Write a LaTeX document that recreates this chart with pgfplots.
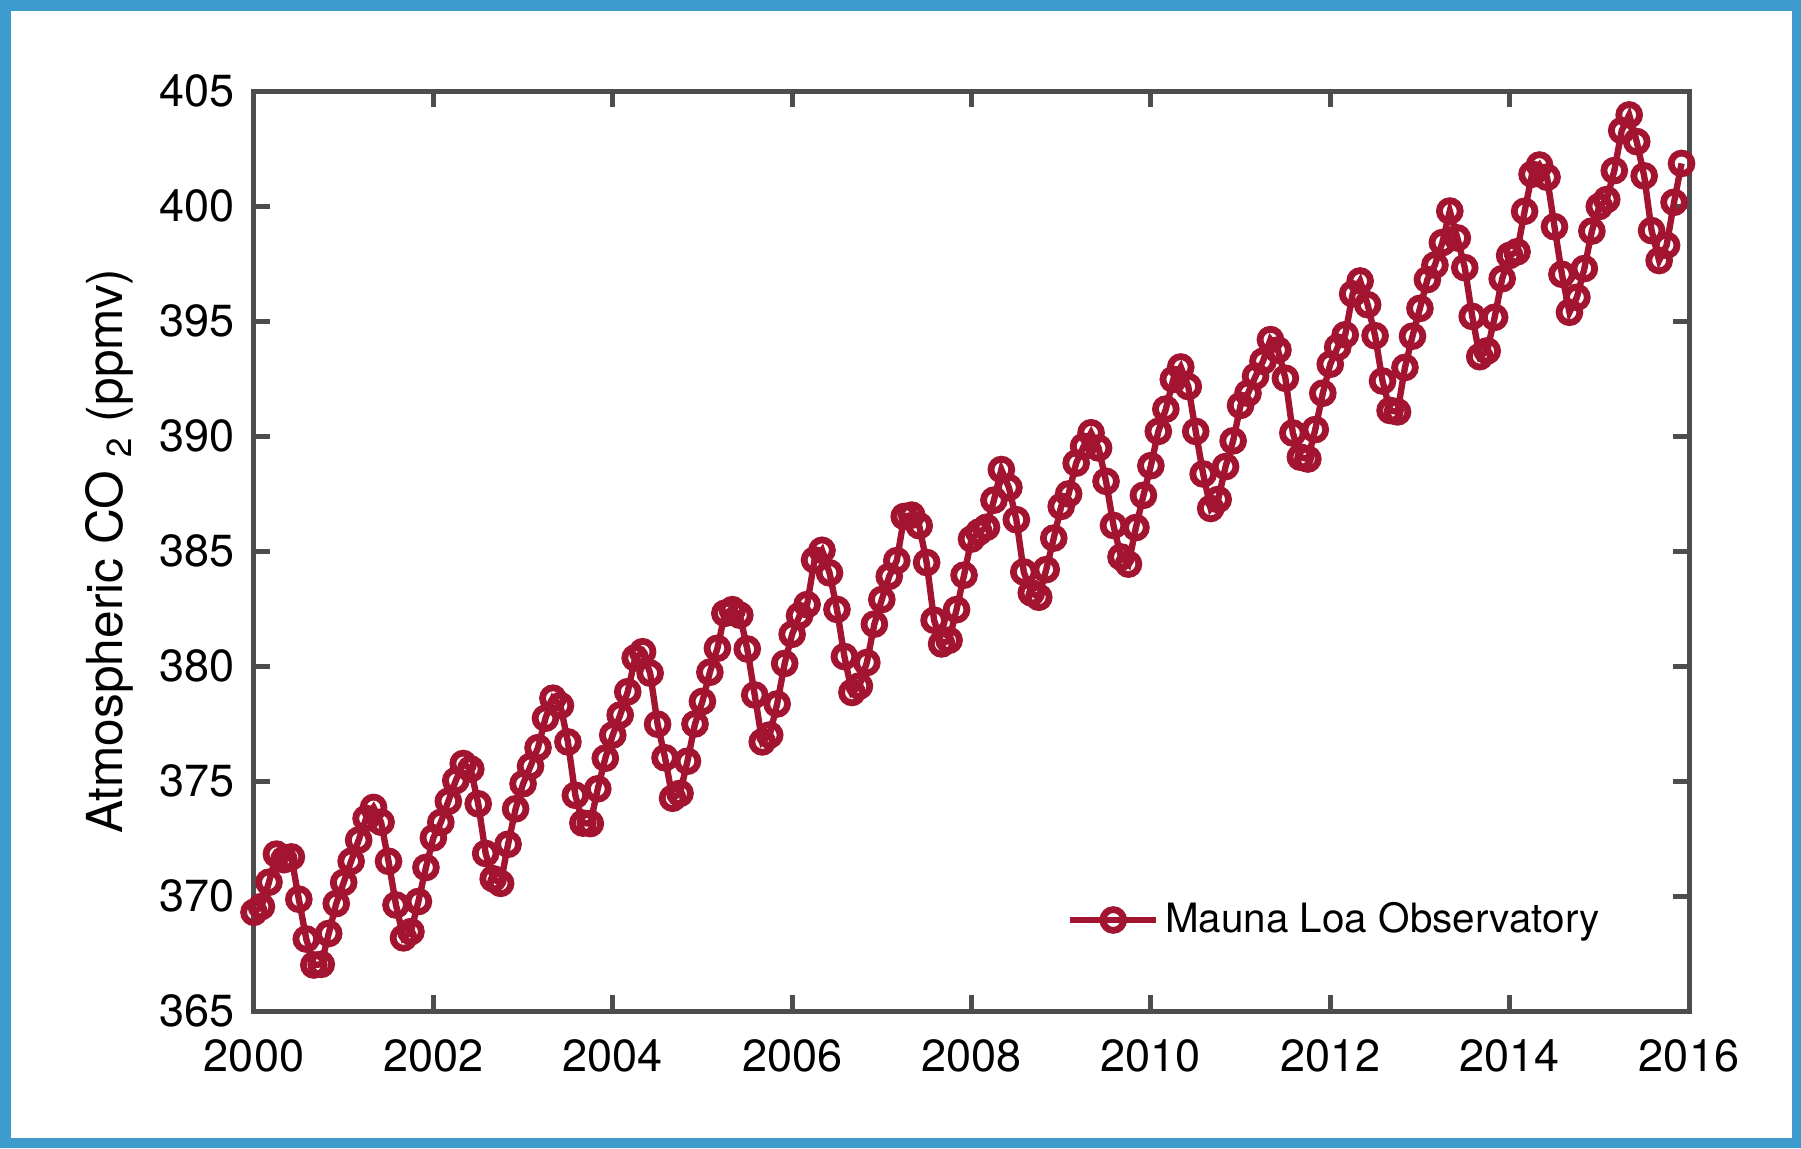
\documentclass[border=0pt]{standalone}
\usepackage{pgfplots}
\pgfplotsset{compat=1.18}
\usepackage{pgfplotstable}
\usepackage{fontspec}
\setmainfont{TeX Gyre Heros}

\definecolor{framecol}{HTML}{3E9BCD}
\definecolor{co2red}{rgb}{0.635,0.078,0.184}
\definecolor{axgray}{HTML}{4D4D4D}

% monthly means, Mauna Loa
\pgfplotstableread{
t co2
2000.000 369.29
2000.083 369.54
2000.167 370.60
2000.250 371.82
2000.333 371.58
2000.417 371.70
2000.500 369.86
2000.583 368.13
2000.667 367.00
2000.750 367.03
2000.833 368.37
2000.917 369.67
2001.000 370.59
2001.083 371.51
2001.167 372.43
2001.250 373.37
2001.333 373.85
2001.417 373.21
2001.500 371.51
2001.583 369.61
2001.667 368.18
2001.750 368.45
2001.833 369.76
2001.917 371.24
2002.000 372.53
2002.083 373.20
2002.167 374.12
2002.250 375.02
2002.333 375.76
2002.417 375.52
2002.500 374.01
2002.583 371.85
2002.667 370.75
2002.750 370.55
2002.833 372.25
2002.917 373.79
2003.000 374.88
2003.083 375.64
2003.167 376.45
2003.250 377.73
2003.333 378.60
2003.417 378.28
2003.500 376.70
2003.583 374.38
2003.667 373.17
2003.750 373.15
2003.833 374.66
2003.917 375.99
2004.000 377.00
2004.083 377.87
2004.167 378.88
2004.250 380.35
2004.333 380.62
2004.417 379.69
2004.500 377.47
2004.583 376.01
2004.667 374.25
2004.750 374.46
2004.833 375.86
2004.917 377.48
2005.000 378.46
2005.083 379.73
2005.167 380.77
2005.250 382.29
2005.333 382.45
2005.417 382.21
2005.500 380.74
2005.583 378.74
2005.667 376.70
2005.750 377.00
2005.833 378.35
2005.917 380.11
2006.000 381.38
2006.083 382.19
2006.167 382.67
2006.250 384.61
2006.333 385.03
2006.417 384.05
2006.500 382.46
2006.583 380.41
2006.667 378.85
2006.750 379.13
2006.833 380.15
2006.917 381.82
2007.000 382.89
2007.083 383.90
2007.167 384.58
2007.250 386.50
2007.333 386.56
2007.417 386.10
2007.500 384.50
2007.583 381.99
2007.667 380.96
2007.750 381.12
2007.833 382.45
2007.917 383.95
2008.000 385.52
2008.083 385.82
2008.167 386.03
2008.250 387.21
2008.333 388.54
2008.417 387.76
2008.500 386.36
2008.583 384.09
2008.667 383.18
2008.750 382.99
2008.833 384.19
2008.917 385.56
2009.000 386.94
2009.083 387.48
2009.167 388.82
2009.250 389.55
2009.333 390.14
2009.417 389.48
2009.500 388.03
2009.583 386.11
2009.667 384.74
2009.750 384.43
2009.833 386.02
2009.917 387.42
2010.000 388.71
2010.083 390.20
2010.167 391.17
2010.250 392.46
2010.333 393.00
2010.417 392.15
2010.500 390.20
2010.583 388.35
2010.667 386.85
2010.750 387.24
2010.833 388.67
2010.917 389.79
2011.000 391.33
2011.083 391.86
2011.167 392.60
2011.250 393.25
2011.333 394.19
2011.417 393.74
2011.500 392.51
2011.583 390.13
2011.667 389.08
2011.750 389.00
2011.833 390.28
2011.917 391.86
2012.000 393.12
2012.083 393.86
2012.167 394.40
2012.250 396.18
2012.333 396.74
2012.417 395.71
2012.500 394.36
2012.583 392.39
2012.667 391.11
2012.750 391.05
2012.833 392.98
2012.917 394.34
2013.000 395.55
2013.083 396.80
2013.167 397.43
2013.250 398.41
2013.333 399.78
2013.417 398.61
2013.500 397.32
2013.583 395.20
2013.667 393.45
2013.750 393.70
2013.833 395.16
2013.917 396.84
2014.000 397.85
2014.083 398.01
2014.167 399.77
2014.250 401.38
2014.333 401.78
2014.417 401.25
2014.500 399.10
2014.583 397.03
2014.667 395.38
2014.750 396.03
2014.833 397.28
2014.917 398.91
2015.000 399.98
2015.083 400.28
2015.167 401.54
2015.250 403.28
2015.333 403.96
2015.417 402.80
2015.500 401.31
2015.583 398.93
2015.667 397.63
2015.750 398.29
2015.833 400.16
2015.917 401.85
}\maunaloa

\begin{document}
\begin{tikzpicture}
% blue frame round the figure
\fill[framecol, even odd rule] (0,0) rectangle (450.25pt,287pt)
  (2.7pt,2.5pt) rectangle (448pt,284.3pt);
\begin{axis}[
  at={(63.5pt,34.25pt)}, anchor=south west,
  scale only axis, width=358.75pt, height=230pt,
  xmin=2000, xmax=2016, ymin=365, ymax=405,
  xtick={2000,2002,...,2016},
  ytick={365,370,...,405},
  tick align=inside,
  major tick length=4pt,
  axis line style={axgray, line width=1.25pt},
  every tick/.style={axgray, line width=1.25pt},
  /pgf/number format/assume math mode=true,
  /pgf/number format/1000 sep={},
  ticklabel style={font=\fontsize{11.25}{13}\selectfont},
  xticklabel style={yshift=-3.5pt},
  yticklabel style={xshift=-1.3pt},
  ylabel={Atmospheric CO \textsubscript{2} (ppmv)},
  ylabel style={font=\fontsize{12.4}{14}\selectfont,
    at={(axis description cs:-0.0913,0.5)}, anchor=base},
  legend style={draw=none, fill=none, inner sep=0pt, outer sep=0pt,
    at={(0.5666,0.0989)}, anchor=west,
    nodes={inner xsep=1.45pt},
    font=\fontsize{10.1}{12}\selectfont},
  legend image code/.code={
    \draw[mark repeat=2,mark phase=2,#1] plot coordinates
      {(0pt,0pt) (10.75pt,0pt) (21.5pt,0pt)};},
]
\addplot[co2red, line width=1.6pt, mark=o, mark size=2.6pt,
  mark options={solid, line width=1.7pt}] table[x=t, y=co2] {\maunaloa};
\addlegendentry{Mauna Loa Observatory}
\end{axis}
\end{tikzpicture}
\end{document}
